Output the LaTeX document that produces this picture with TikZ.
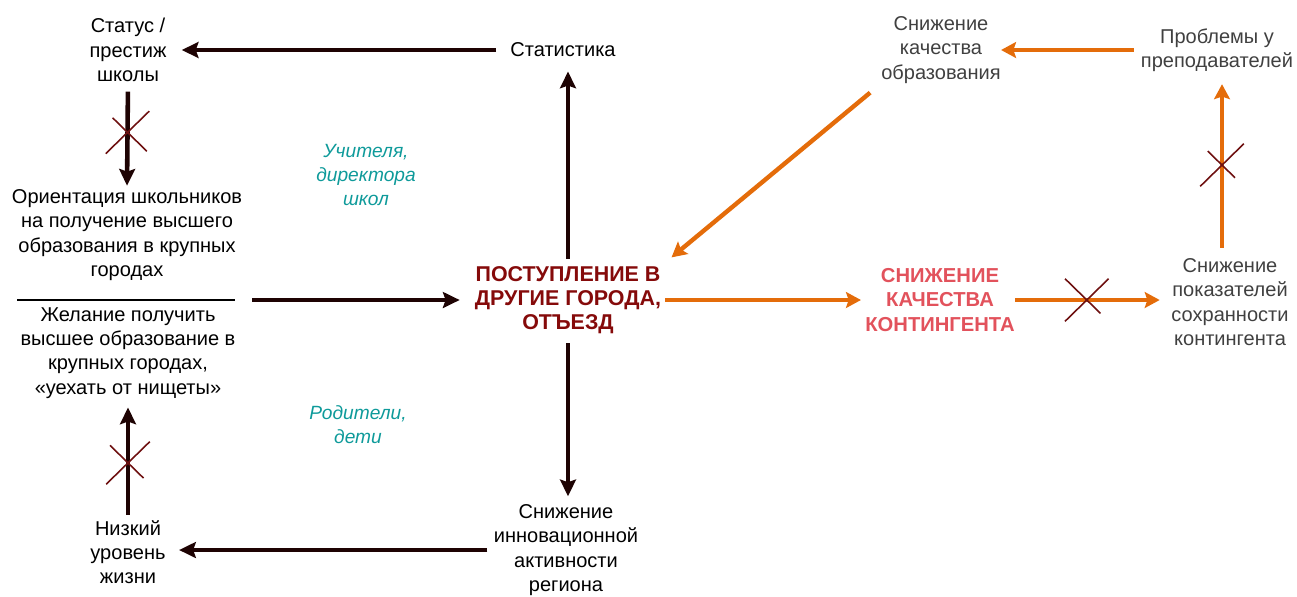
\documentclass[tikz,border=0pt]{standalone}
\usepackage{fontspec}
\setmainfont{Liberation Sans}
\usetikzlibrary{arrows.meta,calc,fit,shapes.misc}
\definecolor{darkarr}{HTML}{1E0303}
\definecolor{orng}{HTML}{E46C0A}
\definecolor{xred}{HTML}{6E1010}
\definecolor{mainred}{HTML}{850A0A}
\definecolor{kontred}{HTML}{E2525C}
\definecolor{tealc}{HTML}{0E9A9A}
\definecolor{txtgray}{HTML}{404040}
\begin{document}
\begin{tikzpicture}[x=0.02cm,y=-0.02cm,
  txt/.style={align=center,inner sep=0pt,font=\fontsize{11.4}{13.8}\selectfont,text=black},
  itx/.style={align=center,inner sep=0pt,font=\fontsize{10.9}{13.8}\selectfont\itshape,text=tealc},
  bigtxt/.style={align=center,inner sep=0pt,font=\fontsize{12.2}{13.8}\selectfont\bfseries},
  kontxt/.style={align=center,inner sep=0pt,font=\fontsize{11.5}{13.8}\selectfont\bfseries},
  darr/.style={draw=darkarr,line width=2.6pt,-{Stealth[length=9.5pt,width=9pt,inset=1.5pt]}},
  oarr/.style={draw=orng,line width=2.5pt,-{Stealth[length=8.5pt,width=9pt,inset=1.5pt]}},
  xmk/.style={cross out,draw=xred,line width=0.9pt,inner sep=0pt,minimum width=0.84cm,minimum height=0.82cm}]
\useasboundingbox (0,0) rectangle (1297,596);
% left column
\node[txt] (status) at (128,50) {Статус /\\престиж\\школы};
\node[txt] (stat) at (563,50) {Статистика};
\node[txt] (orient) at (127,235) {Ориентация школьников\\на получение высшего\\образования в крупных\\городах};
\node[txt] (wish) at (128,353) {Желание получить\\высшее образование в\\крупных городах,\\«уехать от нищеты»};
\node[txt] (low) at (128,552) {Низкий\\уровень\\жизни};
\node[txt] (innov) at (566,550) {Снижение\\инновационной\\активности\\региона};
\node[bigtxt,text=mainred] (main) at (568,300) {ПОСТУПЛЕНИЕ В\\ДРУГИЕ ГОРОДА,\\ОТЪЕЗД};
\node[itx] (teach) at (366,175) {Учителя,\\директора\\школ};
\node[itx] (parents) at (358,425) {Родители,\\дети};
\node[fit=(orient)(wish),inner sep=0pt] (leftblock) {};
\draw[black,line width=0.6pt] (17,300) -- (235,300);
% right part
\node[kontxt,text=kontred] (kont) at (940,300) {СНИЖЕНИЕ\\КАЧЕСТВА\\КОНТИНГЕНТА};
\node[txt,text=txtgray] (sokhr) at (1230,302) {Снижение\\показателей\\сохранности\\контингента};
\node[txt,text=txtgray] (probl) at (1217,50) {Проблемы у\\преподавателей};
\node[txt,text=txtgray] (quality) at (941,50) {Снижение\\качества\\образования};
\coordinate (xcol) at (1222,0);
% dark arrows
\draw[darr,shorten <=8pt,shorten >=8.5pt] (stat.west) -- (stat.west -| status.east);
\draw[darr,shorten <=5.5pt,shorten >=2pt] (status.south) -- node[xmk,pos=0.47]{} (orient.north);
\draw[darr,shorten <=3pt,shorten >=5pt] (low.north) -- node[xmk,pos=0.47]{} (low.north |- wish.south);
\draw[darr,shorten <=3.5pt,shorten >=7.5pt] (innov.west) -- (innov.west -| low.east);
\draw[darr,shorten <=4pt,shorten >=8pt] (main.north) -- (main.north |- stat.south);
\draw[darr,shorten <=5pt,shorten >=4.5pt] (main.south) -- (main.south |- innov.north);
\draw[darr,shorten <=5.5pt,shorten >=8.5pt] (main.west -| leftblock.east) -- (main.west);
% orange arrows
\draw[oarr,shorten <=2.3pt,shorten >=2.3pt] (main.east) -- (kont.west);
\draw[oarr,shorten >=6.5pt] (kont.east) -- node[xmk,pos=0.46]{} (kont.east -| sokhr.west);
\draw[oarr,shorten <=6pt,shorten >=7pt] (sokhr.north -| xcol) -- node[xmk,pos=0.5]{} (probl.south -| xcol);
\draw[oarr,shorten <=4pt] (probl.west) -- (quality.east);
\draw[oarr,shorten <=8pt,shorten >=7.5pt] (quality.south west) -- (main.north east);
\end{tikzpicture}
\end{document}
